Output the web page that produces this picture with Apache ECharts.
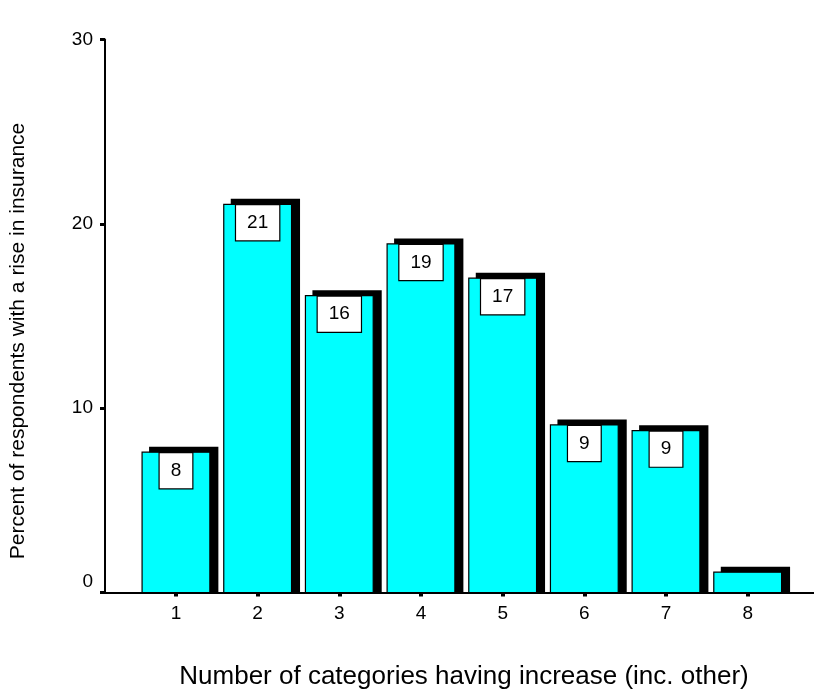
<!DOCTYPE html>
<html>
<head>
<meta charset="utf-8">
<title>Respondents with a rise in insurance</title>
<script src="https://cdn.jsdelivr.net/npm/echarts@6/dist/echarts.min.js"></script>
<style>
  html, body { margin: 0; padding: 0; background: #ffffff; }
  #chart { width: 814px; height: 693px; }
</style>
</head>
<body>
<div id="chart"></div>
<script>
// Number of categories with an increase, and share of respondents (%)
const categories = ['1', '2', '3', '4', '5', '6', '7', '8'];
const percentages = [7.61, 21.06, 16.10, 18.91, 17.05, 9.09, 8.78, 1.10];
const yTickValues = [0, 10, 20, 30];

const FONT = 'Arial, "Liberation Sans", sans-serif';
const positions = categories.map((c, i) => i + 1);
const barData = percentages.map((v, i) => [positions[i], v]);

// Each bar: a black drop shadow offset up and right, the cyan bar,
// and a white boxed value label sitting at the top of the bar.
function renderBar(params, api) {
  const x = api.value(0);
  const v = api.value(1);
  const top = api.coord([x, v]);
  const base = api.coord([x, 0]);
  const slot = api.size([1, 0])[0];
  const w = slot * 0.83;
  const left = top[0] - w / 2;
  const h = base[1] - top[1];
  const children = [
    {
      type: 'rect',
      shape: { x: left + 7, y: top[1] - 5.5, width: w + 1.5, height: h + 5 },
      style: { fill: '#000000' }
    },
    {
      type: 'rect',
      shape: { x: left, y: top[1], width: w, height: h },
      style: { fill: '#00ffff', stroke: '#000000', lineWidth: 1.2 }
    }
  ];
  if (h > 40) {
    children.push({
      type: 'text',
      x: top[0],
      y: top[1] + 1,
      style: {
        text: String(Math.round(v)),
        align: 'center',
        verticalAlign: 'top',
        fontFamily: FONT,
        fontSize: 19,
        lineHeight: 21,
        fill: '#000000',
        backgroundColor: '#ffffff',
        borderColor: '#000000',
        borderWidth: 1.2,
        padding: [7, 11, 7, 11]
      }
    });
  }
  return { type: 'group', children: children };
}

const chart = echarts.init(document.getElementById('chart'), null, { renderer: 'canvas' });

chart.setOption({
  backgroundColor: '#ffffff',
  animation: false,
  grid: {
    left: 105,
    right: 0,
    top: 39.5,
    bottom: 100.5,
    containLabel: false,
    outerBoundsMode: 'none'
  },
  xAxis: {
    type: 'value',
    min: 0.131,
    max: 8.812,
    splitLine: { show: false },
    axisLine: { show: true, lineStyle: { color: '#000000', width: 2 } },
    axisTick: {
      show: true,
      customValues: positions,
      length: 4,
      lineStyle: { color: '#000000', width: 4 }
    },
    axisLabel: {
      customValues: positions,
      formatter: v => categories[Math.round(v) - 1],
      margin: 12,
      color: '#000000',
      fontFamily: FONT,
      fontSize: 19
    },
    name: 'Number of categories having increase (inc. other)',
    nameLocation: 'middle',
    nameGap: 71,
    nameTextStyle: {
      color: '#000000',
      fontFamily: FONT,
      fontSize: 26,
      padding: [0, 0, 0, 9]
    }
  },
  yAxis: {
    type: 'value',
    min: 0,
    max: 30,
    interval: 10,
    splitLine: { show: false },
    axisLine: { show: true, lineStyle: { color: '#000000', width: 2 } },
    axisTick: {
      show: true,
      customValues: yTickValues,
      length: 5,
      lineStyle: { color: '#000000', width: 3 }
    },
    axisLabel: {
      customValues: yTickValues,
      margin: 12,
      color: '#000000',
      fontFamily: FONT,
      fontSize: 19,
      formatter: v => (v === 0 ? '{lift|0}' : String(v)),
      rich: {
        lift: {
          color: '#000000',
          fontFamily: FONT,
          fontSize: 19,
          padding: [0, 0, 22, 0]
        }
      }
    }
  },
  graphic: [
    {
      type: 'text',
      x: 18,
      y: 341,
      rotation: Math.PI / 2,
      style: {
        text: 'Percent of respondents with a rise in insurance',
        align: 'center',
        verticalAlign: 'middle',
        fontFamily: FONT,
        fontSize: 21,
        fill: '#000000'
      }
    }
  ],
  series: [
    {
      type: 'custom',
      renderItem: renderBar,
      encode: { x: 0, y: 1 },
      clip: false,
      data: barData
    }
  ]
});
</script>
</body>
</html>
